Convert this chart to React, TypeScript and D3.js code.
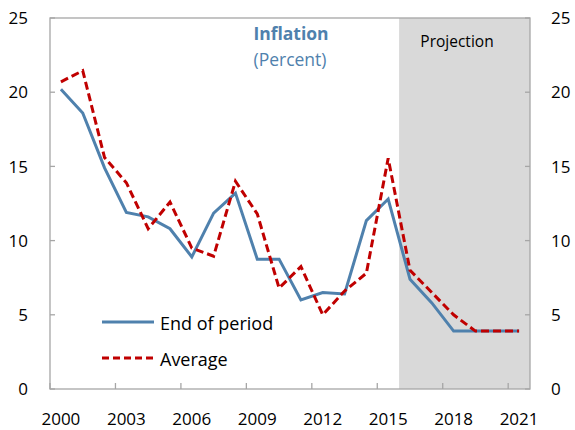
import React from "react";
import * as d3 from "d3";

const years = [2000, 2001, 2002, 2003, 2004, 2005, 2006, 2007, 2008, 2009, 2010, 2011, 2012, 2013, 2014, 2015, 2016, 2017, 2018, 2019, 2020, 2021];
const endOfPeriod = [20.2, 18.6, 14.9, 11.9, 11.6, 10.8, 8.9, 11.85, 13.2, 8.75, 8.75, 6.0, 6.5, 6.4, 11.35, 12.8, 7.4, 5.8, 3.9, 3.9, 3.9, 3.9];
const average = [20.7, 21.45, 15.6, 13.9, 10.8, 12.6, 9.5, 8.95, 14.0, 11.8, 6.8, 8.25, 5.0, 6.6, 7.8, 15.55, 8.0, 6.5, 5.0, 3.9, 3.9, 3.9];
const yTicks = [0, 5, 10, 15, 20, 25];
const xTickLabels = [2000, 2003, 2006, 2009, 2012, 2015, 2018, 2021];
const projectionStart = 2016;

const W = 575;
const H = 430;
const M = { left: 50, right: 45, top: 18, bottom: 41 };
const FONT = "'Open Sans', 'Noto Sans', sans-serif";
const BLUE = "#4F81AD";
const RED = "#C00000";
const AXIS = "#A6A6A6";

export default function App() {
  const x = d3.scaleBand<number>().domain(years).range([M.left, W - M.right]).padding(0);
  const y = d3.scaleLinear().domain([0, 25]).range([H - M.bottom, M.top]);
  const cx = (yr: number) => (x(yr) as number) + x.bandwidth() / 2;
  const line = d3
    .line<number>()
    .x((_, i) => cx(years[i]))
    .y((v) => y(v));
  const x0 = M.left;
  const x1 = W - M.right;
  const y0 = y(0);
  const y1 = y(25);
  const shadeX = x(projectionStart) as number;

  return (
    <svg width={W} height={H} style={{ position: "absolute", left: 0, top: 0 }} fontFamily={FONT}>
      <rect x={shadeX} y={y1} width={x1 - shadeX} height={y0 - y1} fill="#D9D9D9" />
      <rect x={x0} y={y1} width={x1 - x0} height={y0 - y1} fill="none" stroke={AXIS} strokeWidth={1.3} />
      {yTicks.map((t) => (
        <g key={t}>
          <line x1={x0} x2={x0 + 5} y1={y(t)} y2={y(t)} stroke={AXIS} strokeWidth={1.3} />
          <line x1={x1 - 5} x2={x1} y1={y(t)} y2={y(t)} stroke={AXIS} strokeWidth={1.3} />
          <text x={28} y={y(t)} dy="0.36em" textAnchor="end" fontSize={17} fill="#000">
            {t}
          </text>
          <text x={551} y={y(t)} dy="0.36em" textAnchor="start" fontSize={17} fill="#000">
            {t}
          </text>
        </g>
      ))}
      {xTickLabels.map((yr) => (
        <g key={yr}>
          <line x1={x(yr) as number} x2={x(yr) as number} y1={y0} y2={y0 - 6} stroke={AXIS} strokeWidth={1.3} />
          <text x={cx(yr)} y={425} textAnchor="middle" fontSize={17} fill="#000">
            {yr}
          </text>
        </g>
      ))}
      <path d={line(endOfPeriod) || ""} fill="none" stroke={BLUE} strokeWidth={3} strokeLinejoin="miter" />
      <path d={line(average) || ""} fill="none" stroke={RED} strokeWidth={3} strokeDasharray="8,4" />
      <text x={291} y={40} textAnchor="middle" fontSize={17.5} fontWeight="bold" fill={BLUE}>
        Inflation
      </text>
      <text x={290} y={66} textAnchor="middle" fontSize={17.5} fill={BLUE}>
        (Percent)
      </text>
      <text x={457} y={47} textAnchor="middle" fontSize={15.5} fill="#000">
        Projection
      </text>
      <line x1={102} x2={154} y1={322} y2={322} stroke={BLUE} strokeWidth={3} />
      <text x={160} y={330} fontSize={18} fill="#000">
        End of period
      </text>
      <line x1={102} x2={154} y1={358} y2={358} stroke={RED} strokeWidth={3} strokeDasharray="7,4" />
      <text x={160} y={366} fontSize={18} fill="#000">
        Average
      </text>
    </svg>
  );
}
